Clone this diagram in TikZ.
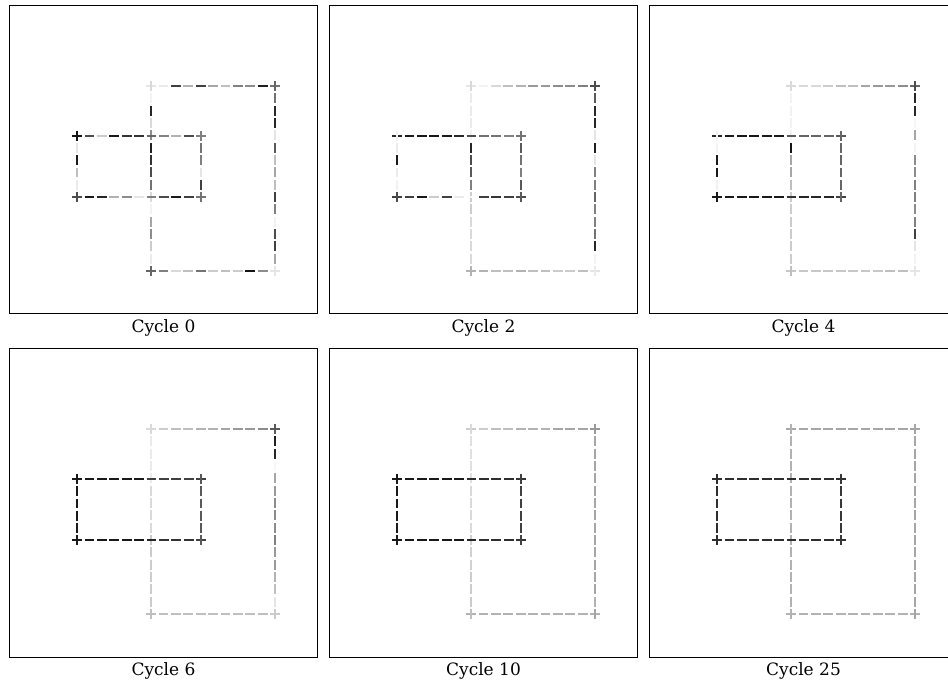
\documentclass[tikz,border=0pt]{standalone}
\usepackage{fontspec}
\setmainfont{DejaVu Serif}
\tikzset{
  dsh/.style={line width=2pt},
  frm/.style={draw=black,line width=1pt},
  captxt/.style={font=\fontsize{17}{20}\selectfont, anchor=base, inner sep=0pt}
}
\newcommand{\hl}{4.9}
% horizontal row of dashes: x0, x1, y, n, list of grey values
\newcommand{\HSeg}[5]{\foreach \g [count=\k from 0] in {#5} {\draw[dsh,draw=black!\g] ({#1+\k*(#2-#1)/#4-\hl},{#3}) -- ({#1+\k*(#2-#1)/#4+\hl},{#3});}}
% vertical row of dashes: y0, y1, x, n, list
\newcommand{\VSeg}[5]{\foreach \g [count=\k from 0] in {#5} {\draw[dsh,draw=black!\g] ({#3},{#1+\k*(#2-#1)/#4-\hl}) -- ({#3},{#1+\k*(#2-#1)/#4+\hl});}}
% small rectangle: x 68..192, y 131..192 (local)
\newcommand{\SmallR}[4]{\HSeg{68}{192}{131}{10}{#1}\HSeg{68}{192}{192}{10}{#2}\VSeg{131}{192}{68}{5}{#3}\VSeg{131}{192}{192}{5}{#4}}
% big rectangle: x 142..266, y 81..266 (local)
\newcommand{\BigR}[4]{\HSeg{142}{266}{81}{10}{#1}\HSeg{142}{266}{266}{10}{#2}\VSeg{81}{266}{142}{15}{#3}\VSeg{81}{266}{266}{15}{#4}}
\newcommand{\Frame}[2]{\draw[frm] (0,0.3) rectangle (308.5,309); \node[captxt] (#1) at (154.5,327.5) {#2};}
\begin{document}
\begin{tikzpicture}[x=1pt,y=-1pt]
\useasboundingbox (0,0) rectangle (948,684);
\clip (0,0) rectangle (948,684);
\fill[white] (0,0) rectangle (948,684);
% ---------- Cycle 0
\begin{scope}[shift={(9,5)}]
\Frame{cap0}{Cycle 0}
\BigR
 {10,8,75,30,75,35,25,50,45,88,55}
 {60,50,15,25,55,20,25,20,92,45,10}
 {15,5,85,15,45,88,80,70,55,15,5,35,45,20,8,60}
 {60,55,85,85,10,65,25,35,25,75,50,5,70,75,35,10}
\SmallR
 {92,70,20,90,80,80,60,50,30,70,50}
 {70,90,85,30,45,10,50,70,90,75,55}
 {92,10,90,25,8,70}
 {50,55,50,10,75,55}
\end{scope}
% ---------- Cycle 2
\begin{scope}[shift={(329,5)}]
\Frame{cap2}{Cycle 2}
\BigR
 {10,5,15,25,30,40,40,45,45,50,70}
 {30,30,25,25,30,25,25,20,20,25,10}
 {15,8,8,8,5,85,70,65,50,20,20,15,15,15,15,30}
 {70,65,85,85,10,88,10,50,50,60,50,50,55,85,5,8}
\SmallR
 {85,90,90,90,90,85,70,55,55,50,55}
 {75,75,90,20,75,8,0,75,80,75,70}
 {5,8,90,8,5,70}
 {55,65,55,50,65,65}
\end{scope}
% ---------- Cycle 4
\begin{scope}[shift={(649,5)}]
\Frame{cap4}{Cycle 4}
\BigR
 {15,15,15,20,25,25,35,40,40,45,60}
 {22,22,22,22,22,22,22,22,25,25,10}
 {15,5,5,5,5,92,35,35,25,20,20,20,20,20,20,25}
 {70,85,85,3,35,5,45,45,50,50,45,50,75,10,5,10}
\SmallR
 {85,90,90,90,90,90,65,60,60,60,65}
 {90,90,90,90,90,90,80,85,85,85,75}
 {5,5,90,90,5,90}
 {60,60,60,60,60,60}
\end{scope}
% ---------- Cycle 6
\begin{scope}[shift={(9,348)}]
\Frame{cap6}{Cycle 6}
\BigR
 {15,20,25,25,30,30,35,40,40,45,65}
 {25,25,25,25,25,25,25,25,25,25,20}
 {15,8,8,8,8,15,15,15,15,20,20,20,20,20,20,25}
 {65,88,85,3,35,40,45,45,45,50,40,40,30,25,10,20}
\SmallR
 {90,90,90,90,90,90,75,75,75,75,75}
 {90,90,90,90,90,90,85,80,80,80,75}
 {90,90,90,90,90,90}
 {65,65,65,65,65,65}
\end{scope}
% ---------- Cycle 10
\begin{scope}[shift={(329,348)}]
\Frame{cap10}{Cycle 10}
\BigR
 {20,20,25,25,30,30,30,35,35,35,40}
 {30,30,30,30,30,30,30,30,30,30,30}
 {15,12,12,12,12,15,15,15,15,18,18,18,20,20,20,25}
 {40,35,35,35,35,35,35,35,35,35,35,35,35,35,30,35}
\SmallR
 {90,90,90,90,90,90,82,82,82,82,80}
 {90,90,90,90,90,90,85,82,82,82,80}
 {90,90,90,90,90,90}
 {75,75,75,75,75,75}
\end{scope}
% ---------- Cycle 25
\begin{scope}[shift={(649,348)}]
\Frame{cap25}{Cycle 25}
\BigR
 {35,35,35,35,35,35,35,35,35,35,35}
 {30,30,30,30,30,30,30,30,30,30,30}
 {30,30,30,30,30,30,30,30,30,30,30,30,30,30,30,30}
 {35,35,35,35,35,35,35,35,35,35,35,35,35,35,35,35}
\SmallR
 {82,82,82,82,82,82,82,82,82,82,82}
 {82,82,82,82,82,82,82,82,82,82,82}
 {82,82,82,82,82,82}
 {78,78,78,78,78,78}
\end{scope}
\end{tikzpicture}
\end{document}
